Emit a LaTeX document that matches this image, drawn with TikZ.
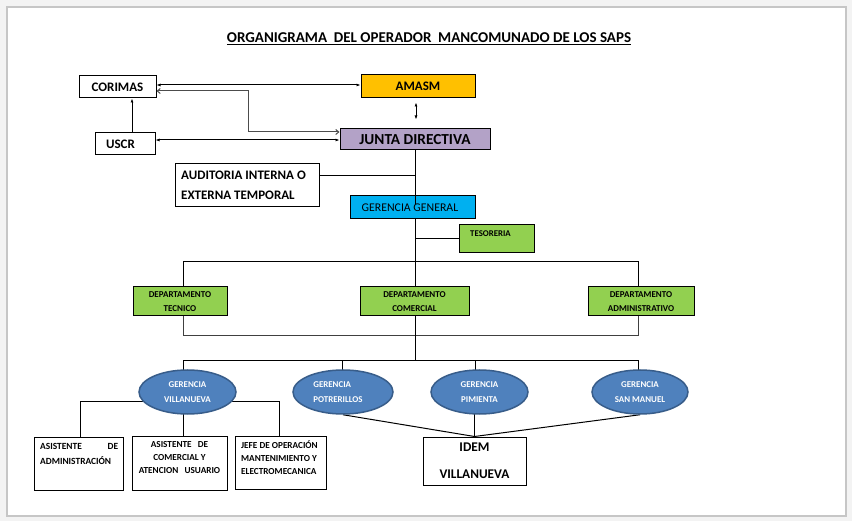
\documentclass[tikz,border=0pt]{standalone}
\usepackage{fontspec}
\setmainfont{Carlito}
\usetikzlibrary{arrows.meta,shapes.geometric,calc}
\pgfdeclarelayer{bottom}
\pgfdeclarelayer{background}
\pgfsetlayers{bottom,background,main}
\definecolor{amasmC}{HTML}{FFC000}
\definecolor{juntaC}{HTML}{B3A2C7}
\definecolor{ggC}{HTML}{00B0F0}
\definecolor{greenC}{HTML}{92D050}
\definecolor{ellC}{HTML}{4F81BD}
\definecolor{ellB}{HTML}{385D8A}
\definecolor{pageBg}{HTML}{F3F3F3}
\definecolor{frameC}{HTML}{C6C6C6}
\tikzset{
  box/.style={draw=black, line width=1pt, inner sep=0pt, align=center, rectangle},
  gbox/.style={box, fill=greenC, font=\bfseries\fontsize{9}{14}\selectfont},
  ell/.style={ellipse, draw=ellB, line width=1.5pt, fill=ellC, inner sep=0pt, text=white, align=center, font=\bfseries\fontsize{8.9}{15}\selectfont},
  conn/.style={line width=1pt, draw=black},
  arr/.style={conn, {Latex[length=4pt,width=3pt]}-{Latex[length=4pt,width=3pt]}},
  barb/.style={conn, {Straight Barb[length=3pt,width=5pt]}-{Straight Barb[length=3pt,width=5pt]}},
  txt/.style={inner sep=0pt, align=left}
}
\begin{document}
\begin{tikzpicture}[x=1pt,y=-1pt]
\useasboundingbox (0,0) rectangle (852,521);
\begin{pgfonlayer}{bottom}
\fill[pageBg] (0,0) rectangle (852,521);
\draw[fill=white, draw=frameC, line width=1.5pt] (7,7) rectangle (846,516);
\end{pgfonlayer}

\node[inner sep=0pt, font=\bfseries\fontsize{15}{17}\selectfont] (title) at (429,39) {\underline{ORGANIGRAMA\ \ DEL OPERADOR\ \ MANCOMUNADO DE LOS SAPS}};

% top boxes
\node[box, fill=white, minimum width=77pt, minimum height=22pt, font=\bfseries\fontsize{13}{14}\selectfont] (CORIMAS) at (117.5,87) {CORIMAS};
\node[box, fill=amasmC, minimum width=114pt, minimum height=23pt, font=\bfseries\fontsize{13}{14}\selectfont] (AMASM) at (418,86.5) {AMASM};
\node[box, fill=white, minimum width=60pt, minimum height=22pt, font=\bfseries\fontsize{13}{14}\selectfont] (USCR) at (125,144) {\hspace*{-9pt}USCR};
\node[box, fill=juntaC, minimum width=150pt, minimum height=21pt, font=\bfseries\fontsize{15.3}{15}\selectfont] (JD) at (415,139.5) {JUNTA DIRECTIVA};
\node[box, fill=white, minimum width=144pt, minimum height=43pt] (AUD) at (247,185.5) {};
\node[txt, anchor=west, font=\bfseries\fontsize{13}{20}\selectfont] (AUDt) at (181,185.5) {AUDITORIA INTERNA O\\EXTERNA TEMPORAL};
\node[box, fill=ggC, minimum width=125pt, minimum height=23pt, font=\fontsize{11.8}{13}\selectfont] (GG) at (412.5,207.5) {\hspace*{-5pt}GERENCIA GENERAL};
\node[box, fill=greenC, minimum width=75pt, minimum height=28pt] (TES) at (496.5,239) {};
\node[txt, anchor=west, font=\bfseries\fontsize{8.8}{10}\selectfont] (TESt) at (470,234) {TESORERIA};

% departments
\node[gbox, minimum width=94pt, minimum height=29pt] (TEC) at (180,301.5) {DEPARTAMENTO\\TECNICO};
\node[gbox, minimum width=109pt, minimum height=29pt] (COM) at (414.5,301.5) {DEPARTAMENTO\\COMERCIAL};
\node[gbox, minimum width=106pt, minimum height=29pt] (ADM) at (641,301.5) {DEPARTAMENTO\\ADMINISTRATIVO};

% gerencias
\node[ell, minimum width=97pt, minimum height=44pt] (VIL) at (187.5,392) {GERENCIA\\VILLANUEVA};
\node[ell, minimum width=100pt, minimum height=44pt, align=left] (POT) at (343,392) {\hspace*{-10pt}GERENCIA\\\hspace*{-10pt}POTRERILLOS};
\node[ell, minimum width=97pt, minimum height=44pt] (PIM) at (479.5,392) {GERENCIA\\PIMIENTA};
\node[ell, minimum width=96pt, minimum height=44pt] (SM) at (640,392) {GERENCIA\\SAN MANUEL};

% bottom boxes
\node[box, fill=white, minimum width=89pt, minimum height=53pt] (A1) at (78.5,463.5) {};
\node[txt, anchor=north west, text width=78pt, font=\bfseries\fontsize{9.4}{15}\selectfont] (A1t) at (40,443.5) {ASISTENTE\hfill DE\\ADMINISTRACIÓN};
\node[box, fill=white, minimum width=95pt, minimum height=54pt] (A2) at (179.5,463) {};
\node[txt, anchor=north, align=center, font=\bfseries\fontsize{9.2}{13}\selectfont] (A2t) at (179.5,441.5) {ASISTENTE\ \ \ DE\\COMERCIAL Y\\ATENCION\ \ \ USUARIO};
\node[box, fill=white, minimum width=91pt, minimum height=53pt] (A3) at (280.5,462.5) {};
\node[txt, anchor=north west, font=\bfseries\fontsize{9.2}{13}\selectfont] (A3t) at (241,440.5) {JEFE\ DE OPERACIÓN\\MANTENIMIENTO Y\\ELECTROMECANICA};
\node[box, fill=white, minimum width=103pt, minimum height=48pt, font=\bfseries\fontsize{13.3}{27}\selectfont] (IDEM) at (474.5,461) {IDEM\\VILLANUEVA};

% connectors (behind)
\coordinate (hub) at (415,262);
\coordinate (hub2) at (415,361);
\coordinate (bend) at (248,132);
\coordinate (audR) at ([yshift=9.5pt]AUD.east);
\begin{pgfonlayer}{background}
\draw[conn] (GG.center -| hub) -- (hub);
\draw[conn] (audR) -- (audR -| JD.south);
\draw[conn] (TES.center) -- (TES.center -| hub);
\draw[conn] ([xshift=3pt]TEC.center) |- (hub);
\draw[conn] ([xshift=-3pt]ADM.center) |- (hub);
\draw[conn] (COM.center -| hub) -- (hub);
\draw[conn, draw=black!75] ([xshift=3pt]TEC.center) -- ([xshift=3pt,yshift=-19pt]TEC.south) -| ([xshift=-3pt]ADM.center);
\draw[conn] (COM.center -| hub2) -- (hub2);
\draw[conn] ([xshift=-4.5pt]VIL.center) |- (hub2);
\draw[conn] ([xshift=-1pt]POT.center) |- (hub2);
\draw[conn] ([xshift=-4.5pt]PIM.center) |- (hub2);
\draw[conn] ([xshift=-2pt]SM.center) |- (hub2);
\draw[conn] ([xshift=1.5pt]A1.center) |- ([yshift=-10pt]VIL.center);
\draw[conn] ([xshift=-1.5pt]A3.center) |- ([yshift=-10pt]VIL.center);
\draw[conn] ([xshift=3.5pt]A2.center) |- (VIL.center);
\draw[conn] (POT.south) -- (IDEM.north);
\draw[conn] (IDEM.north |- PIM.center) -- (IDEM.north);
\draw[conn] (SM.south) -- (IDEM.north);
\end{pgfonlayer}
\draw[conn] (JD.south) -- ($(JD.south |- GG.north)+(0,9)$);

% arrows
\draw[arr] ([yshift=2pt]CORIMAS.east) -- ([yshift=2pt]CORIMAS.east -| AMASM.west);
\draw[barb, draw=black!70] ([yshift=-4pt]CORIMAS.east) -| (bend) -- (bend -| JD.west);
\draw[conn, -{Latex[length=4pt,width=3pt]}] ([xshift=7pt]USCR.north) -- ([xshift=7pt]USCR.north |- CORIMAS.south);
\draw[arr] ([yshift=4pt]USCR.east) -- ([yshift=4pt]USCR.east -| JD.west);
\draw[arr] ($(AMASM.south)+(-2,4)$) -- ($(AMASM.south |- JD.north)+(-2,-9)$);
\end{tikzpicture}
\end{document}
